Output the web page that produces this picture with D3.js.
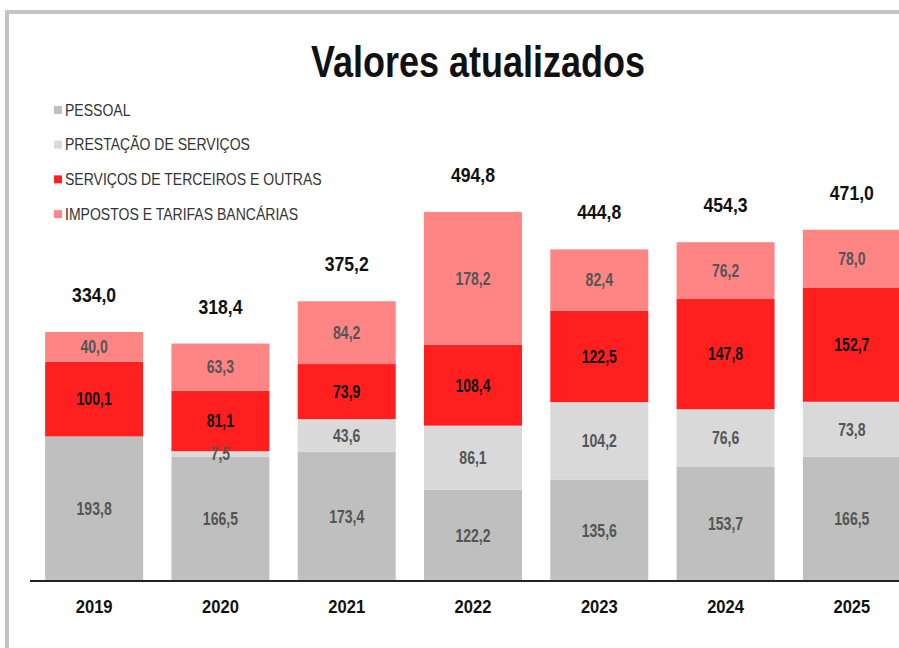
<!DOCTYPE html>
<html>
<body>
<script src="https://cdn.jsdelivr.net/npm/d3@7"></script>
<style>
  body { margin: 0; background: #fff; }
  svg { display: block; }
  text { font-family: "Liberation Sans", Arial, sans-serif; }
  .x.axis path { stroke: #222; stroke-width: 2px; }
  .x.axis text { font-size: 18px; font-weight: bold; fill: #111; }
</style>
<script>
  var years = ["2019", "2020", "2021", "2022", "2023", "2024", "2025"];
  var seriesNames = ["PESSOAL", "PRESTAÇÃO DE SERVIÇOS", "SERVIÇOS DE TERCEIROS E OUTRAS", "IMPOSTOS E TARIFAS BANCÁRIAS"];
  var pessoal = [193.8, 166.5, 173.4, 122.2, 135.6, 153.7, 166.5];
  var prestacao = [0, 7.5, 43.6, 86.1, 104.2, 76.6, 73.8];
  var terceiros = [100.1, 81.1, 73.9, 108.4, 122.5, 147.8, 152.7];
  var impostos = [40.0, 63.3, 84.2, 178.2, 82.4, 76.2, 78.0];
  var totals = [334.0, 318.4, 375.2, 494.8, 444.8, 454.3, 471.0];
  var colors = ["#bfbfbf", "#d9d9d9", "#ff1f1f", "#ff8585"];

  var W = 899, H = 648;
  var baseY = 581;

  var fmt = v => v.toFixed(1).replace(".", ",");

  // squeeze text horizontally to mimic a narrow font
  function condense(sel, k) {
    sel.each(function() {
      var w = this.getComputedTextLength();
      d3.select(this).attr("textLength", w * k).attr("lengthAdjust", "spacingAndGlyphs");
    });
  }

  var rows = years.map((y, i) => ({
    year: y,
    "PESSOAL": pessoal[i],
    "PRESTAÇÃO DE SERVIÇOS": prestacao[i],
    "SERVIÇOS DE TERCEIROS E OUTRAS": terceiros[i],
    "IMPOSTOS E TARIFAS BANCÁRIAS": impostos[i],
    total: totals[i]
  }));

  var x = d3.scaleBand()
      .domain(years)
      .range([31, 915])
      .paddingInner(0.224)
      .paddingOuter(0.112);

  var y = d3.scaleLinear()
      .domain([0, 494.8])
      .range([baseY, 212]);

  var color = d3.scaleOrdinal().domain(seriesNames).range(colors);

  var svg = d3.select("body").append("svg")
      .attr("width", W)
      .attr("height", H);

  // frame
  svg.append("path")
      .attr("d", "M7,648 V12 H899")
      .attr("fill", "none")
      .attr("stroke", "#c4c4c4")
      .attr("stroke-width", 4);

  svg.append("text")
      .attr("x", 478)
      .attr("y", 77)
      .attr("text-anchor", "middle")
      .style("font-size", "45px")
      .style("font-weight", "bold")
      .style("fill", "#111")
      .text("Valores atualizados")
      .call(condense, 0.8);

  // legend
  var legend = svg.selectAll(".legend")
      .data(seriesNames)
    .enter().append("g")
      .attr("class", "legend")
      .attr("transform", (d, i) => `translate(54,${110 + i * 34.7})`);

  legend.append("rect")
      .attr("x", 0)
      .attr("y", -4)
      .attr("width", 8)
      .attr("height", 8)
      .attr("fill", d => color(d));

  legend.append("text")
      .attr("x", 11)
      .attr("dy", "0.35em")
      .style("font-size", "16.5px")
      .style("fill", "#333")
      .text(d => d)
      .call(condense, 0.85);

  var stack = d3.stack().keys(seriesNames)(rows);

  var layer = svg.selectAll(".layer")
      .data(stack)
    .enter().append("g")
      .attr("class", "layer")
      .attr("fill", d => color(d.key));

  layer.selectAll("rect")
      .data(d => d)
    .enter().append("rect")
      .attr("x", d => x(d.data.year))
      .attr("width", x.bandwidth())
      .attr("y", d => y(d[1]))
      .attr("height", d => y(d[0]) - y(d[1]));

  // segment labels
  stack.forEach(function(s, si) {
    svg.append("g").selectAll("text")
        .data(s.filter(d => d[1] - d[0] > 0))
      .enter().append("text")
        .attr("x", d => x(d.data.year) + x.bandwidth() / 2)
        .attr("y", d => (y(d[0]) + y(d[1])) / 2)
        .attr("dy", "0.35em")
        .attr("text-anchor", "middle")
        .style("font-size", "18px")
        .style("font-weight", "bold")
        .style("fill", si == 2 ? "#111" : "#555")
        .text(d => fmt(d[1] - d[0]))
        .call(condense, 0.78);
  });

  // totals
  svg.append("g").selectAll("text")
      .data(rows)
    .enter().append("text")
      .attr("x", d => x(d.year) + x.bandwidth() / 2)
      .attr("y", d => y(d.total) - 37)
      .attr("dy", "0.35em")
      .attr("text-anchor", "middle")
      .style("font-size", "20px")
      .style("font-weight", "bold")
      .style("fill", "#111")
      .text(d => fmt(d.total))
      .call(condense, 0.88);

  svg.append("g")
      .attr("class", "x axis")
      .attr("transform", `translate(0,${baseY})`)
      .call(d3.axisBottom(x).tickSize(0).tickPadding(19))
      .call(g => g.select(".domain").attr("d", "M30,0H899"))
      .call(g => g.selectAll(".tick text").call(condense, 0.92));
</script>
</body>
</html>
